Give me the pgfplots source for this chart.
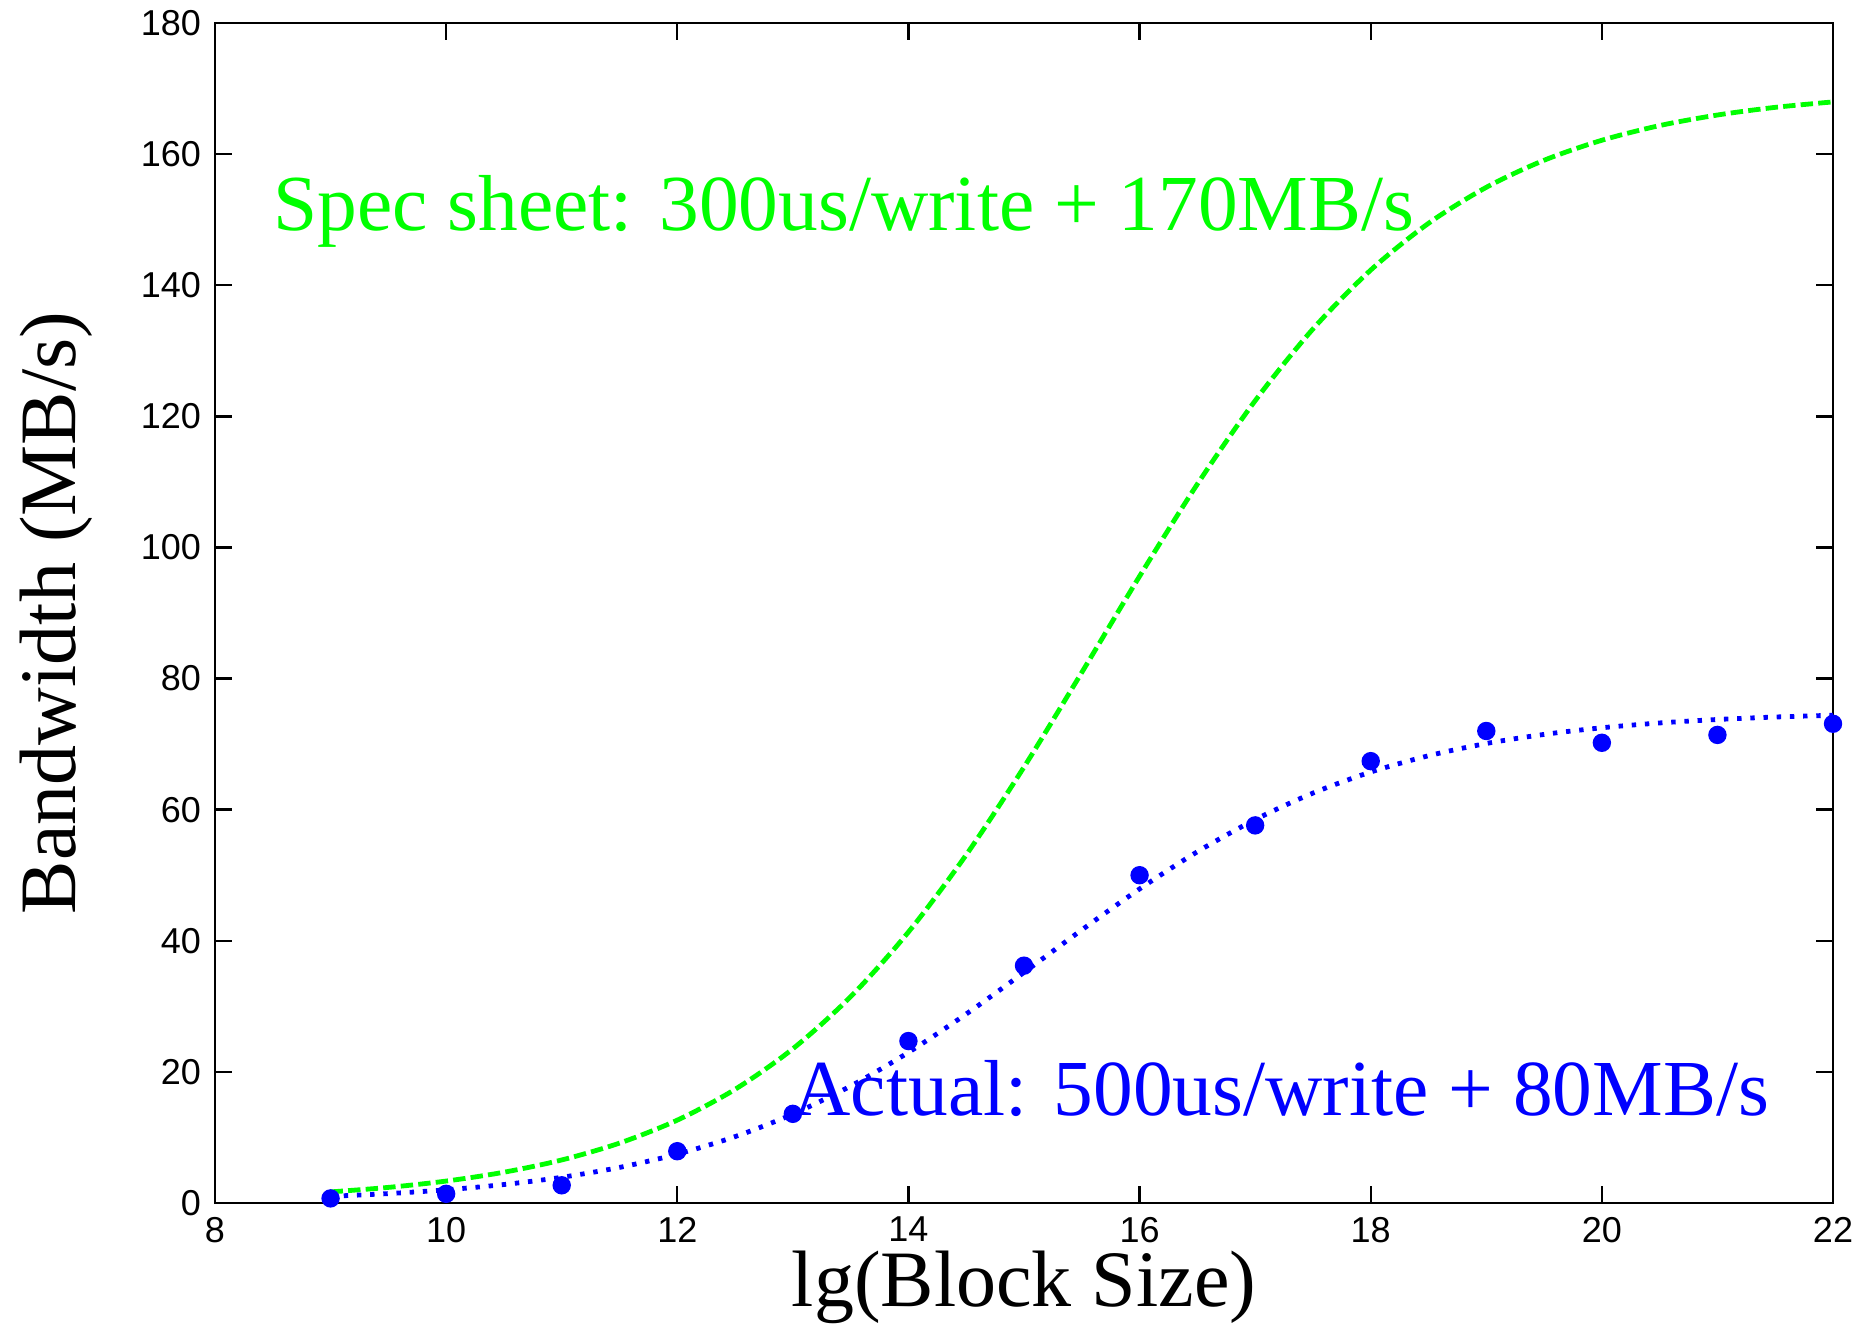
\documentclass[border=0pt]{standalone}
\usepackage{fontspec}
\setmainfont{Liberation Serif}
\newfontfamily\arialfont{Liberation Sans}
\usepackage{pgfplots}
\pgfplotsset{compat=1.18}
\definecolor{gpgreen}{RGB}{0,255,0}
\definecolor{gpblue}{RGB}{0,0,255}
\begin{document}
\begin{tikzpicture}
\useasboundingbox (-53.75pt,-30.25pt) rectangle (414.25pt,300.75pt);
\begin{axis}[
  at={(0,0)}, anchor=south west,
  scale only axis, width=404.5pt, height=295pt,
  xmin=8, xmax=22, ymin=0, ymax=180,
  xtick={8,10,...,22}, ytick={0,20,...,180},
  axis line style={line width=0.6pt},
  every tick/.style={black, line width=0.6pt},
  major tick length=4.2pt,
  tick align=inside,
  /pgf/number format/assume math mode=true,
  ticklabel style={font=\arialfont\fontsize{9}{10}\selectfont},
  xlabel={lg(Block Size)}, ylabel={Bandwidth (MB/s)},
  label style={font=\fontsize{20}{24}\selectfont},
  xlabel style={at={(axis description cs:0.5,-0.0881)}, anchor=base},
  ylabel style={at={(axis description cs:-0.0865,0.5)}, anchor=base},
  clip mode=individual,
]
% Spec sheet model curve
\addplot[gpgreen, line width=1.2pt, dash pattern=on 3.1pt off 1.3pt, smooth] coordinates {
(9,1.690) (9.5,2.380) (10,3.346) (10.5,4.694) (11,6.563) (11.5,9.135)
(12,12.638) (12.5,17.339) (13,23.527) (13.5,31.469) (14,41.334) (14.5,53.107)
(15,66.500) (15.5,80.932) (16,95.602) (16.5,109.66) (17,122.38) (17.5,133.32)
(18,142.31) (18.5,149.44) (19,154.93) (19.5,159.06) (20,162.11) (20.5,164.35)
(21,165.96) (21.5,167.13) (22,167.96)
};
% Actual fit curve
\addplot[gpblue, line width=1.2pt, dash pattern=on 1.1pt off 2.2pt, smooth] coordinates {
(9,1.020) (9.5,1.435) (10,2.013) (10.5,2.816) (11,3.921) (11.5,5.428)
(12,7.453) (12.5,10.124) (13,13.560) (13.5,17.841) (14,22.970) (14.5,28.830)
(15,35.175) (15.5,41.659) (16,47.902) (16.5,53.580) (17,58.481) (17.5,62.527)
(18,65.741) (18.5,68.223) (19,70.092) (19.5,71.479) (20,72.491) (20.5,73.225)
(21,73.753) (21.5,74.131) (22,74.401)
};
% Measured points
\addplot[only marks, mark=*, mark size=2.1pt, color=gpblue, mark options={fill=gpblue, draw=gpblue}] coordinates {
(9,0.7) (10,1.4) (11,2.7) (12,7.9) (13,13.6) (14,24.7) (15,36.2) (16,50.0)
(17,57.6) (18,67.4) (19,72.0) (20,70.2) (21,71.4) (22,73.1)
};
\node[anchor=base west, inner sep=0pt, text=gpgreen, font=\fontsize{19.85}{24}\selectfont] at (axis cs:8.50,148.3) {Spec sheet: 300us/write + 170MB/s};
\node[anchor=base west, inner sep=0pt, text=gpblue, font=\fontsize{19.85}{24}\selectfont] at (axis cs:13.0,13.3) {Actual: 500us/write + 80MB/s};
\end{axis}
\end{tikzpicture}
\end{document}
